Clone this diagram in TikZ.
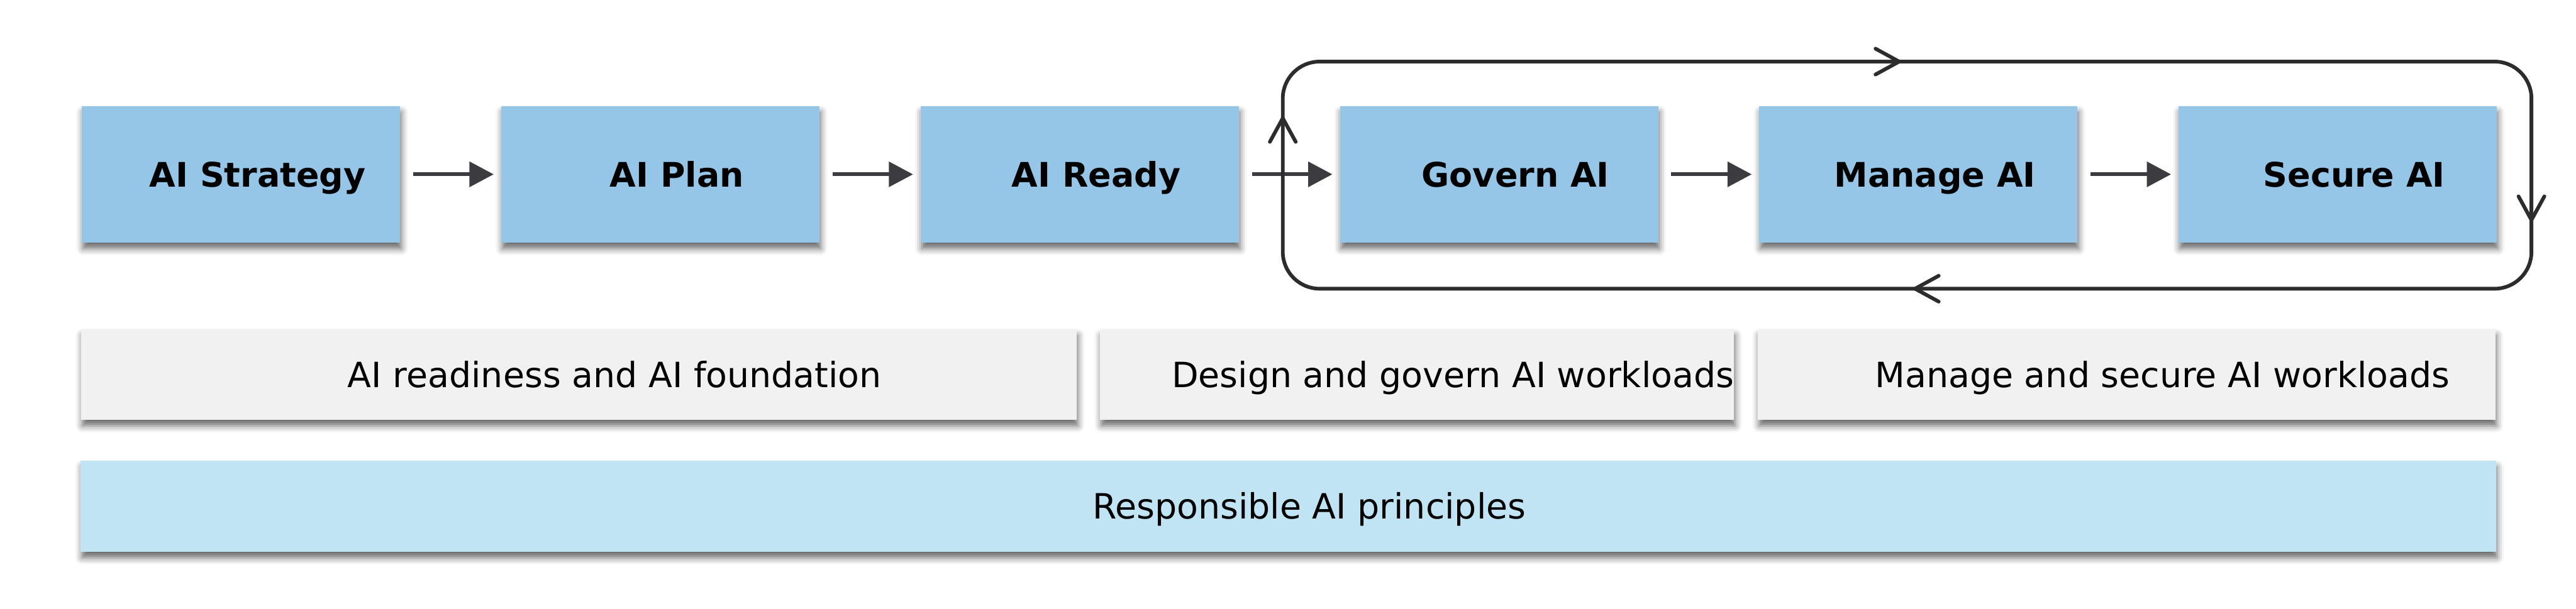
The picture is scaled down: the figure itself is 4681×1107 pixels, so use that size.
\documentclass[tikz,border=0pt]{standalone}
\usepackage{fontspec}
\setmainfont{DejaVu Sans}
\usetikzlibrary{arrows.meta}
\usetikzlibrary{shadows.blur}
\usetikzlibrary{decorations.markings}

\definecolor{stageblue}{HTML}{95C6E8}
\definecolor{phasegray}{HTML}{F1F1F1}
\definecolor{baseblue}{HTML}{C1E4F4}
\definecolor{arrowgray}{HTML}{3C3B40}
\definecolor{loopgray}{HTML}{2C2C2C}

\tikzset{
	boxshadow/.style={blur shadow={shadow xshift=0.02cm, shadow yshift=-0.11cm, shadow blur radius=0.12cm, shadow opacity=60}},
	pad/.style={execute at begin node={\hspace*{#1}}},
	stage/.style={fill=stageblue, boxshadow, minimum width=5.78cm, minimum height=2.48cm, inner sep=0pt,
		text height=0.45cm, text depth=0pt, font=\fontsize{17.5}{21}\selectfont\bfseries, pad=0.6cm},
	phase/.style={fill=phasegray, boxshadow, minimum height=1.64cm, inner sep=0pt,
		text height=0.46cm, text depth=0pt, font=\fontsize{18}{21}\selectfont},
	base/.style={phase, fill=baseblue, minimum height=1.65cm},
	flow/.style={draw=arrowgray, line width=1.9pt, -{Triangle[length=0.44cm, width=0.45cm]}, shorten <=0.23cm, shorten >=0.13cm},
	loophead/.tip={Straight Barb[length=0.43cm, width=0.47cm, line cap=round]},
	cycleline/.style={draw=loopgray, line width=1.9pt, rounded corners=0.67cm},
	cyclemark/.style={color=loopgray, line width=1.9pt, postaction={decorate},
		decoration={markings, mark=at position #1 with {\arrow{loophead}}}}
}

\begin{document}
\begin{tikzpicture}[x=0.01cm, y=-0.01cm]

	\useasboundingbox (0, 0) rectangle (4681, 1107);

	\node[stage] (strategy)	at (438, 317)	{AI Strategy};
	\node[stage] (plan)	at (1200, 317)	{AI Plan};
	\node[stage] (ready)	at (1962, 317)	{AI Ready};
	\node[stage] (govern)	at (2724, 317)	{Govern AI};
	\node[stage] (manage)	at (3486, 317)	{Manage AI};
	\node[stage] (secure)	at (4248, 317)	{Secure AI};

	\draw[flow] (strategy) -- (plan);
	\draw[flow] (plan) -- (ready);
	\draw[flow] (ready) -- (govern);
	\draw[flow] (govern) -- (manage);
	\draw[flow] (manage) -- (secure);

	% repeating loop
	\coordinate (loop w)	at (2331, 318);
	\coordinate (loop nw)	at (2331, 112);
	\coordinate (loop ne)	at (4600, 112);
	\coordinate (loop se)	at (4600, 525);
	\coordinate (loop sw)	at (2331, 525);
	\draw[cycleline] (loop w) -- (loop nw) -- (loop ne) -- (loop se) -- (loop sw) -- cycle;

	\path[cyclemark=0.7676] (loop sw) -- (loop nw);
	\path[cyclemark=0.4967] (loop nw) -- (loop ne);
	\path[cyclemark=0.7143] (loop ne) -- (loop se);
	\path[cyclemark=0.4967] (loop se) -- (loop sw);

	% foundations
	\node[phase, pad=1.3cm, minimum width=18.08cm] (readiness)	at (1052, 681)	{AI readiness and AI foundation};
	\node[phase, pad=1.3cm, minimum width=11.38cm] (design)	at (2575, 681)	{Design and govern AI workloads};
	\node[phase, pad=1.3cm, minimum width=13.39cm] (operate)	at (3864.5, 681)	{Manage and secure AI workloads};

	\node[base, pad=0.76cm, minimum width=43.86cm] (principles)	at (2341, 920.5)	{Responsible AI principles};

\end{tikzpicture}
\end{document}
